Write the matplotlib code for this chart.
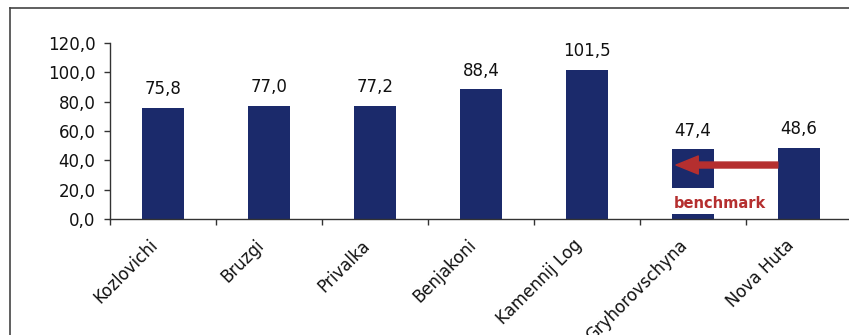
import matplotlib
matplotlib.use("Agg")
import matplotlib.pyplot as plt
from matplotlib.patches import Rectangle, FancyArrowPatch
from matplotlib.lines import Line2D
from matplotlib.transforms import ScaledTranslation

sites = ["Kozlovichi", "Bruzgi", "Privalka", "Benjakoni",
         "Kamennij Log", "Gryhorovschyna", "Nova Huta"]
values = [75.8, 77.0, 77.2, 88.4, 101.5, 47.4, 48.6]
yticks = [0, 20, 40, 60, 80, 100, 120]

bar_color = "#1b2a6b"
red = "#b52f2f"

def fmt(v):
    return f"{v:.1f}".replace(".", ",")

fig = plt.figure(figsize=(8.49, 3.35), dpi=100)
ax = fig.add_axes([110 / 849, 116 / 335, 742 / 849, 176 / 335])

x = list(range(len(sites)))
ax.bar(x, values, width=0.4, color=bar_color, zorder=2)
ax.set_xlim(-0.5, len(sites) - 0.5)
ax.set_ylim(0, 120)

for xi, v in zip(x, values):
    ax.annotate(fmt(v), (xi, v), xytext=(0, 7), textcoords="offset points",
                ha="center", va="bottom", fontsize=12, color="#111111")

ax.spines["top"].set_visible(False)
ax.spines["right"].set_visible(False)
for s in ("left", "bottom"):
    ax.spines[s].set_color("#333333")
    ax.spines[s].set_linewidth(1.0)

ax.set_yticks(yticks)
ax.set_yticklabels([fmt(v) for v in yticks], fontsize=12, color="#111111")
ax.tick_params(axis="y", length=4.5, width=1, color="#333333", pad=6)

# category labels centred on bars, ticks on the category boundaries
ax.set_xticks(x)
ax.set_xticklabels(sites, rotation=45, ha="right", va="center",
                   rotation_mode="anchor", fontsize=12, color="#111111")
ax.tick_params(axis="x", length=0, pad=17)
shift = ScaledTranslation(-0.08, 0, fig.dpi_scale_trans)
for lbl in ax.get_xticklabels():
    lbl.set_transform(lbl.get_transform() + shift)
ax.set_xticks([i - 0.5 for i in range(len(sites) + 1)], minor=True)
ax.tick_params(axis="x", which="minor", length=4, width=1, color="#333333")

# benchmark callout on the Gryhorovschyna bar
g = sites.index("Gryhorovschyna")
n = sites.index("Nova Huta")
ax.add_patch(Rectangle((g - 0.25, 3.4), 0.6, 17.7, facecolor="white",
                       edgecolor="none", zorder=3))
ax.text(g + 0.25, 10.5, "benchmark", color=red, fontsize=10.5,
        fontweight="bold", ha="center", va="center", zorder=4)
arrow = FancyArrowPatch((n - 0.2, 36.8), (g - 0.16, 36.8),
                        arrowstyle="simple,head_length=16,head_width=13,tail_width=4.3",
                        mutation_scale=1, color=red, shrinkA=0, shrinkB=0, zorder=5)
ax.add_patch(arrow)

# outer frame
fig.add_artist(Line2D([10 / 849, 10 / 849], [0, 1 - 8 / 335],
                      transform=fig.transFigure, color="#444444", lw=1.2))
fig.add_artist(Line2D([10 / 849, 1], [1 - 8 / 335, 1 - 8 / 335],
                      transform=fig.transFigure, color="#444444", lw=1.2))

fig.savefig("out.png", dpi=100)
